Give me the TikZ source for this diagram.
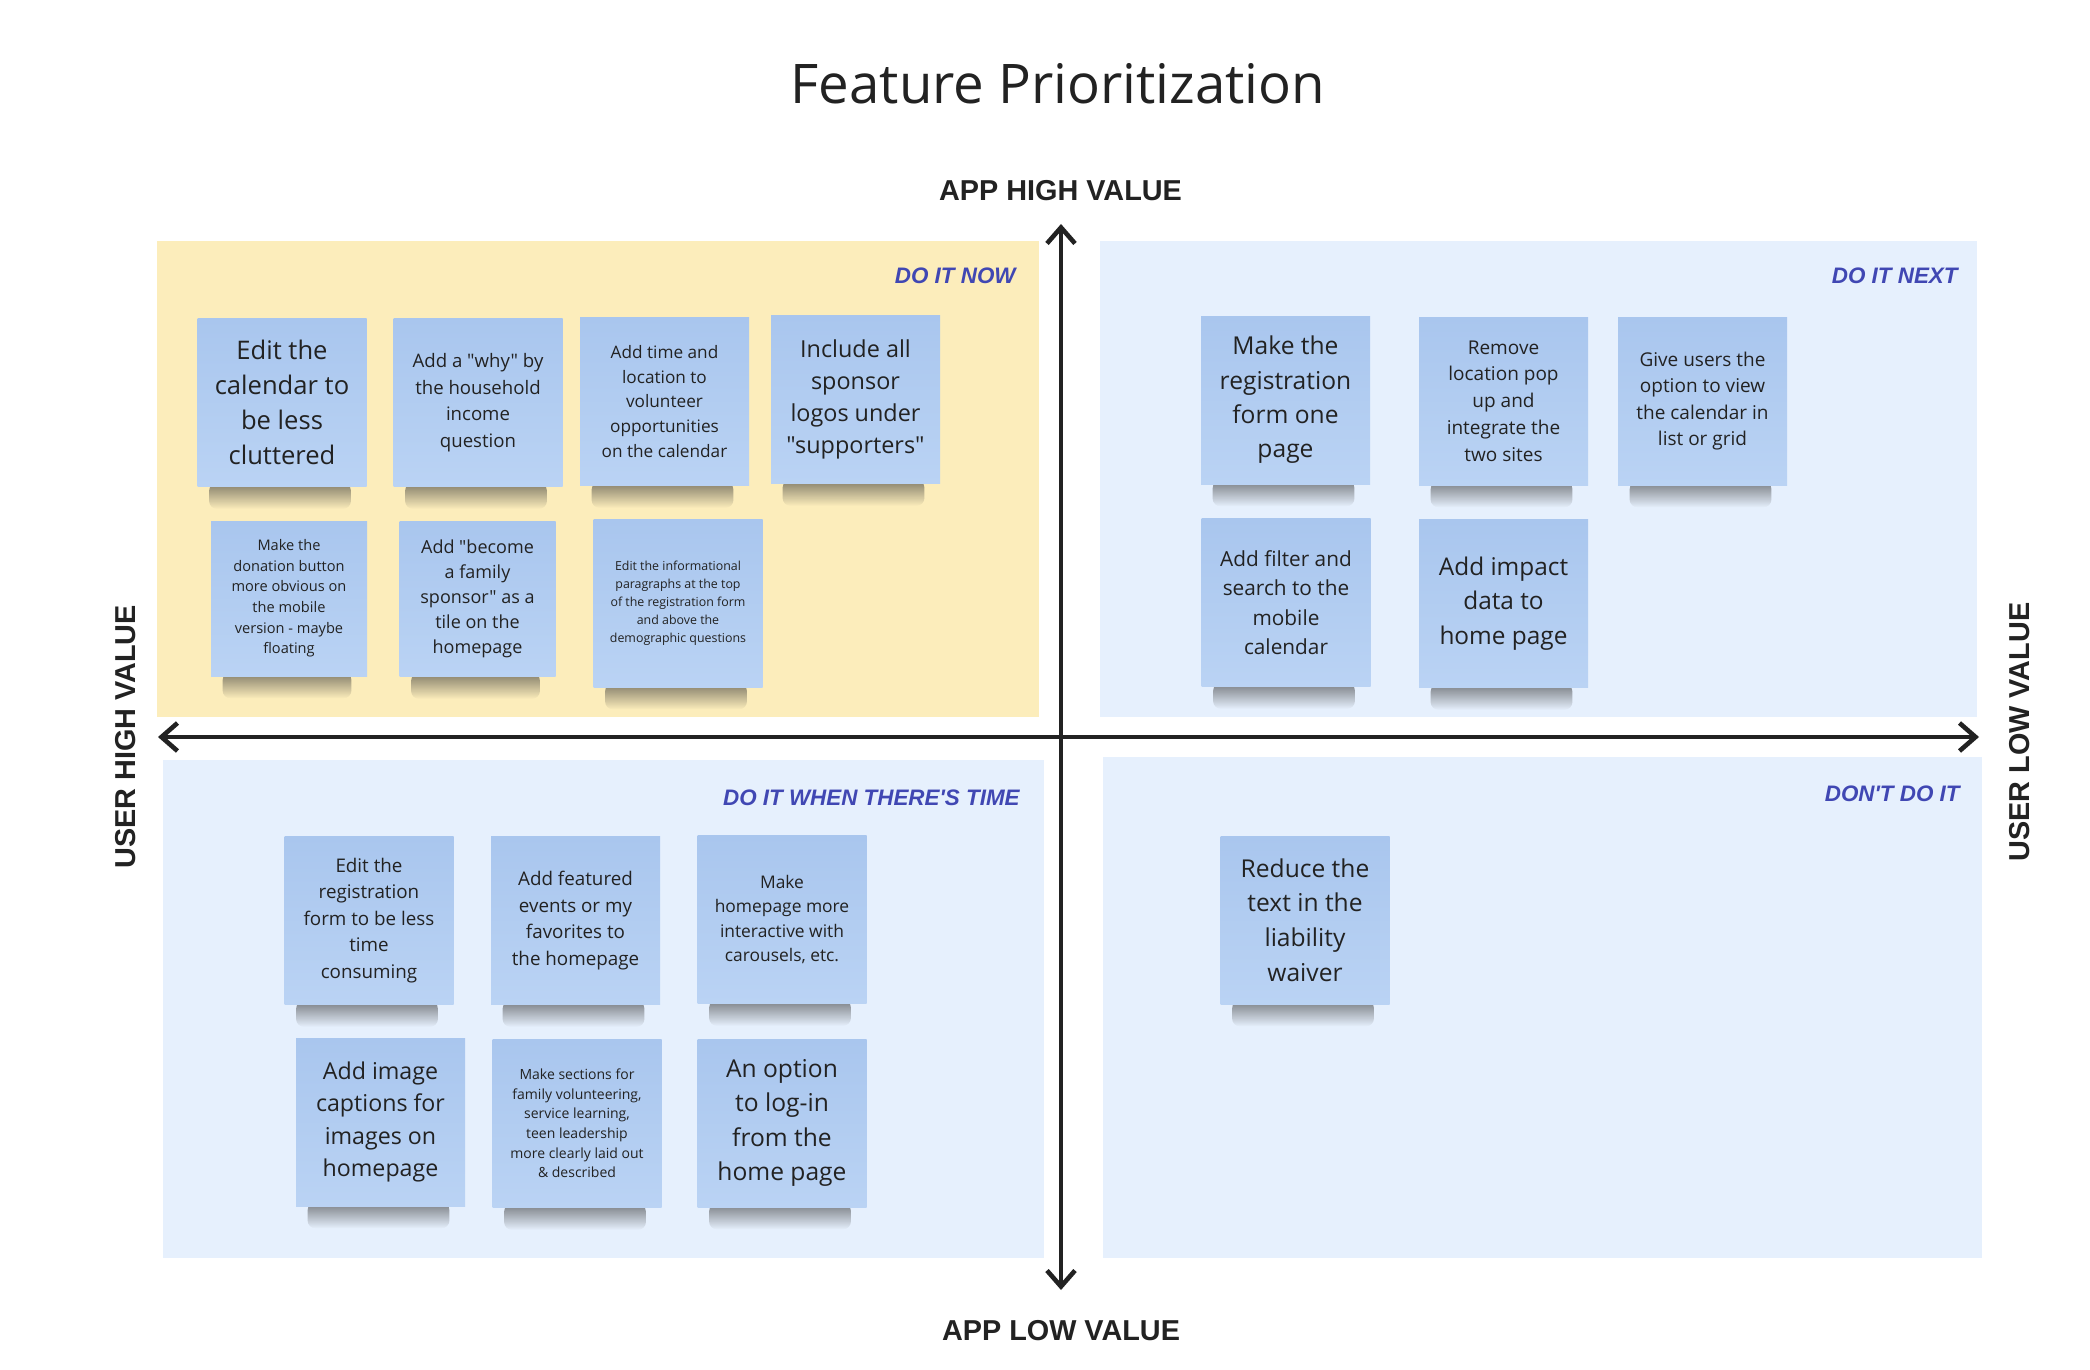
\documentclass[tikz,border=0pt]{standalone}
\usepackage{fontspec}
\setmainfont{Open Sans}[Ligatures=TeXOff]
\newfontfamily\axisfont{Liberation Sans}[Ligatures=TeXOff]
\usetikzlibrary{arrows.meta,calc,fadings}
\definecolor{nowbg}{RGB}{252,237,187}
\definecolor{quadbg}{RGB}{230,240,253}
\definecolor{stickytop}{RGB}{169,198,238}
\definecolor{stickybot}{RGB}{186,211,244}
\definecolor{tagcol}{RGB}{64,71,179}
\definecolor{inkcol}{RGB}{34,34,34}
\pgfdeclarelayer{background}
\pgfdeclarelayer{shade}
\pgfsetlayers{background,shade,main}
\tikzfading[name=stickyfade, top color=transparent!0, middle color=transparent!30, bottom color=transparent!100]
\newcommand{\fsz}[2]{\fontsize{#1}{#2}\selectfont}
\begin{document}
\begin{tikzpicture}[x=0.5pt, y=-0.5pt, >={Straight Barb[length=8pt,width=14pt]},
	sticky/.style={top color=stickytop, bottom color=stickybot, text=inkcol, align=center, inner sep=0pt,
		minimum width=84.5pt, minimum height=84pt},
	small/.style={minimum width=78pt, minimum height=77.5pt},
	stickyshadow/.style={fill=black!80, opacity=0.6, rounded corners=4pt, path fading=stickyfade},
	tag/.style={anchor=east, inner sep=0pt, text=tagcol, font=\axisfont\bfseries\itshape\fsz{11.2}{13}},
	axislabel/.style={text=inkcol, inner sep=0pt, font=\axisfont\bfseries\fsz{14.4}{16}}]
\useasboundingbox (0,0) rectangle (2090,1370);
% Title
	\node[text=inkcol, anchor=base, font=\fsz{27.3}{30}] (title) at (1058,104) {Feature Prioritization};
% Quadrants
\begin{pgfonlayer}{background}
	\fill[white] (0,0) rectangle (2090,1370);
	\fill[nowbg] (157,241) rectangle (1039,717);
	\fill[quadbg] (1100,241) rectangle (1977,717);
	\fill[quadbg] (163,760) rectangle (1044,1258);
	\fill[quadbg] (1103,757) rectangle (1982,1258);
\end{pgfonlayer}
% Axes
	\coordinate (apphigh) at (1061,224);
	\coordinate (applow) at (1061,1290);
	\coordinate (userhigh) at (158,737);
	\coordinate (userlow) at (1979,737);
	\draw[<->, line width=2.3pt, inkcol] (applow) -- (apphigh);
	\draw[<->, line width=2.3pt, inkcol] (userhigh) -- (userlow);
	\node[axislabel] (apphighlbl) at (1060.5,190.5) {APP HIGH VALUE};
	\node[axislabel] (applowlbl) at (1061,1331) {APP LOW VALUE};
	\node[axislabel, rotate=90] (userhighlbl) at (125.5,737) {USER HIGH VALUE};
	\node[axislabel, rotate=90] (userlowlbl) at (2020,732) {USER LOW VALUE};
% Quadrant tags
	\node[tag] (now) at (1016,276) {DO IT NOW};
	\node[tag] (next) at (1958,276) {DO IT NEXT};
	\node[tag] (later) at (1020,798) {DO IT WHEN THERE'S TIME};
	\node[tag] (never) at (1960,794) {DON'T DO IT};
% Do it now
	\node[sticky, font=\fsz{12.8}{17.5}] (n1) at (282,402.5) {Edit the\\calendar to\\be less\\cluttered};
	\node[sticky, font=\fsz{9.3}{13.3}] (n2) at (478,402.5) {Add a "why" by\\the household\\income\\question};
	\node[sticky, font=\fsz{8.6}{12.3}] (n3) at (664.5,401.5) {Add time and\\location to\\volunteer\\opportunities\\on the calendar};
	\node[sticky, font=\fsz{11.7}{16}] (n4) at (855.5,399.5) {Include all\\sponsor\\logos under\\"supporters"};
	\node[sticky, small, font=\fsz{7.3}{10.3}] (n5) at (289,598.5) {Make the\\donation button\\more obvious on\\the mobile\\version - maybe\\floating};
	\node[sticky, small, font=\fsz{9}{12.5}] (n6) at (477.5,599) {Add "become\\a family\\sponsor" as a\\tile on the\\homepage};
	\node[sticky, font=\fsz{6.2}{9}] (n7) at (678,603) {Edit the informational\\paragraphs at the top\\of the registration form\\and above the\\demographic questions};
% Do it next
	\node[sticky, font=\fsz{12.3}{17.2}] (m1) at (1285.5,400) {Make the\\registration\\form one\\page};
	\node[sticky, font=\fsz{9.5}{13.4}] (m2) at (1503.5,401) {Remove\\location pop\\up and\\integrate the\\two sites};
	\node[sticky, font=\fsz{9.5}{13.3}] (m3) at (1702.5,401) {Give users the\\option to view\\the calendar in\\list or grid};
	\node[sticky, font=\fsz{10.4}{14.7}] (m4) at (1286,602.5) {Add filter and\\search to the\\mobile\\calendar};
	\node[sticky, font=\fsz{12.2}{17.2}] (m5) at (1503.5,603.5) {Add impact\\data to\\home page};
% Do it when there's time
	\node[sticky, font=\fsz{9.4}{13.2}] (b1) at (369,920.5) {Edit the\\registration\\form to be less\\time\\consuming};
	\node[sticky, font=\fsz{9.4}{13.3}] (b2) at (575.5,920.5) {Add featured\\events or my\\favorites to\\the homepage};
	\node[sticky, font=\fsz{8.7}{12.2}] (b3) at (782,919.5) {Make\\homepage more\\interactive with\\carousels, etc.};
	\node[sticky, font=\fsz{11.6}{16.2}] (b4) at (380.5,1122) {Add image\\captions for\\images on\\homepage};
	\node[sticky, font=\fsz{7}{9.8}] (b5) at (577,1123.5) {Make sections for\\family volunteering,\\service learning,\\teen leadership\\more clearly laid out\\\& described};
	\node[sticky, font=\fsz{12.3}{17.2}] (b6) at (782,1123) {An option\\to log-in\\from the\\home page};
% Don't do it
	\node[sticky, font=\fsz{12.3}{17.3}] (r1) at (1305,920) {Reduce the\\text in the\\liability\\waiver};
% Shadows under the notes
\begin{pgfonlayer}{shade}
	\foreach \n in {n1,n2,n3,n4,n5,n6,n7,m1,m2,m3,m4,m5,b1,b2,b3,b4,b5,b6,r1}
		\fill[stickyshadow] ($(\n.south west)+(12,-4)$) rectangle ($(\n.south east)+(-16,22)$);
\end{pgfonlayer}
\end{tikzpicture}
\end{document}
